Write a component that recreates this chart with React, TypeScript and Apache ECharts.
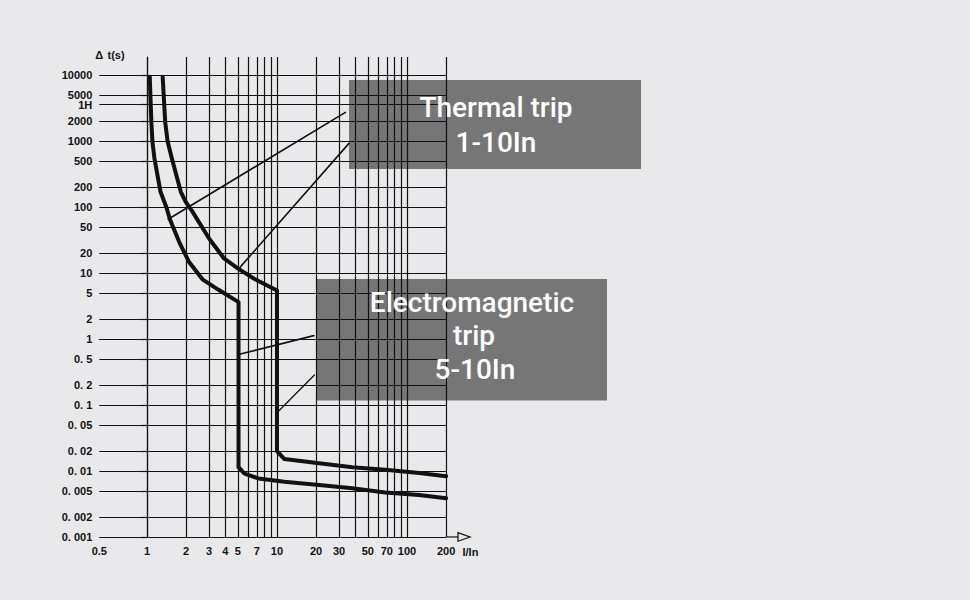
import React, { useEffect, useRef } from 'react';
import * as echarts from 'echarts';

// ---- axes (real values; axis is logarithmic, drawn through log10) ----
const xGridValues = [1, 2, 3, 4, 5, 6, 7, 8, 9, 10, 20, 30, 40, 50, 60, 70, 80, 90, 100, 200];
const xLabelValues = [1, 2, 3, 4, 5, 7, 10, 20, 30, 50, 70, 100, 200];
const xLabelTexts = ['1', '2', '3', '4', '5', '7', '10', '20', '30', '50', '70', '100', '200'];
const xAxisStart = 0.4296; // left end of the drawn axis, labelled "0.5" in the original
const xAxisStartLabel = '0.5';
const xAxisEnd = 200;
const xAxisName = 'I/In';

const yTickValues = [0.001, 0.002, 0.005, 0.01, 0.02, 0.05, 0.1, 0.2, 0.5, 1, 2, 5, 10, 20, 50, 100, 200, 500, 1000, 2000, 3600, 5000, 10000];
const yTickLabels = ['0. 001', '0. 002', '0. 005', '0. 01', '0. 02', '0. 05', '0. 1', '0. 2', '0. 5', '1', '2', '5', '10', '20', '50', '100', '200', '500', '1000', '2000', '1H', '5000', '10000'];
const yAxisMin = 0.001;
const yAxisMax = 18950;
const yAxisName = 't(s)';

// ---- trip curves (I/In, seconds) ----
const curveLeftX = [1.05, 1.08, 1.10, 1.14, 1.27, 1.41, 1.50, 1.77, 2.10, 2.67, 3.53, 5.06, 5.06, 5.63, 7.18, 11.4, 21.1, 38, 68, 124, 200];
const curveLeftT = [9480, 1980, 1000, 556, 171, 100, 65.8, 29.6, 14.9, 8.06, 5.64, 3.64, 0.0114, 0.00915, 0.00772, 0.00687, 0.00614, 0.00548, 0.00471, 0.00434, 0.00385];

const curveRightX = [1.32, 1.38, 1.44, 1.55, 1.82, 1.98, 2.23, 3.03, 3.44, 3.91, 5.06, 6.78, 10, 10, 11.4, 21.1, 38, 68, 124, 200];
const curveRightT = [9480, 1980, 1000, 556, 171, 122, 86.5, 32.7, 23.5, 16.7, 11.6, 8.06, 5.44, 0.02, 0.01515, 0.01306, 0.0114, 0.01048, 0.00934, 0.00834];

// ---- leader lines [start, end] in (I/In, seconds) ----
const leaderThermalA = [[1.455, 65.8], [33.6, 2737]];
const leaderThermalB = [[5.2, 12.3], [35.8, 929]];
const leaderMagA = [[5.14, 0.59], [19.2, 1.13]];
const leaderMagB = [[10.13, 0.0786], [19.4, 0.286]];

// ---- annotation texts ----
const thermalLines = ['Thermal trip', '1-10In'];
const magneticLines = ['Electromagnetic', 'trip', '5-10In'];

const L = Math.log10;
const BG = '#e9e9eb';
const BOX = '#767676';
const INK = '#111111';

export default function App() {
  const ref = useRef<HTMLDivElement>(null);

  useEffect(() => {
    document.body.style.margin = '0';
    document.body.style.background = BG;
    if (!ref.current) return;
    const chart = echarts.init(ref.current, null, { renderer: 'svg' });

    const gridLeft = 99.3;
    const gridRight = 970 - 446.1;
    const gridTop = 57;
    const gridBottom = 600 - 536.95;
    const axisX = gridLeft;
    const axisY = 600 - gridBottom;
    const axisXEnd = 970 - gridRight;

    const xLabelFmt = (v: number) => {
      if (Math.abs(v - L(xAxisStart)) < 1e-6) return xAxisStartLabel;
      const i = xLabelValues.findIndex((x) => Math.abs(L(x) - v) < 1e-6);
      return i >= 0 ? xLabelTexts[i] : '';
    };
    const yLabelFmt = (v: number) => {
      const i = yTickValues.findIndex((t) => Math.abs(L(t) - v) < 1e-6);
      return i >= 0 ? yTickLabels[i] : '';
    };

    const toPts = (xs: number[], ts: number[]) => xs.map((x, i) => [L(x), L(ts[i])]);
    const seg = (p: number[][]) => p.map(([x, t]) => [L(x), L(t)]);

    const labelFont = { fontFamily: 'Liberation Sans, Arial, sans-serif', fontSize: 11, fontWeight: 'bold' as const, color: INK };
    const boxFont = { fontFamily: 'Roboto, sans-serif', fontSize: 28, fontWeight: 500, fill: '#ffffff' };
    const smallFont = 'bold 11px "Liberation Sans", Arial, sans-serif';

    const lineSeries = (data: number[][], width: number) => ({
      type: 'line',
      data,
      symbol: 'none',
      z: 4,
      lineStyle: { color: INK, width, join: 'round', cap: 'round' },
      silent: true,
    });

    chart.setOption({
      animation: false,
      backgroundColor: BG,
      grid: { left: gridLeft, right: gridRight, top: gridTop, bottom: gridBottom },
      xAxis: {
        type: 'value',
        min: L(xAxisStart),
        max: L(xAxisEnd),
        z: 2,
        axisLine: { show: true, lineStyle: { color: INK, width: 1.2 } },
        axisTick: { show: false, customValues: xGridValues.map(L) },
        axisLabel: {
          customValues: [L(xAxisStart), ...xLabelValues.map(L)],
          formatter: xLabelFmt,
          margin: 9,
          hideOverlap: false,
          showMinLabel: true,
          showMaxLabel: true,
          ...labelFont,
        },
        splitLine: { show: true, lineStyle: { color: INK, width: 1.2 } },
      },
      yAxis: {
        type: 'value',
        min: L(yAxisMin),
        max: L(yAxisMax),
        z: 2,
        axisLine: { show: true, lineStyle: { color: INK, width: 1.2 } },
        axisTick: { show: true, length: 6, customValues: yTickValues.map(L), lineStyle: { color: INK, width: 1.2 } },
        axisLabel: {
          customValues: yTickValues.map(L),
          formatter: yLabelFmt,
          margin: 7,
          lineHeight: 8,
          hideOverlap: false,
          showMinLabel: true,
          showMaxLabel: true,
          ...labelFont,
        },
        splitLine: { show: true, lineStyle: { color: INK, width: 1.2 } },
      },
      series: [
        lineSeries(toPts(curveLeftX, curveLeftT), 4),
        lineSeries(toPts(curveRightX, curveRightT), 4),
        lineSeries(seg(leaderThermalA), 1.6),
        lineSeries(seg(leaderThermalB), 1.6),
        lineSeries(seg(leaderMagA), 1.7),
        lineSeries(seg(leaderMagB), 1.3),
      ],
      graphic: [
        { type: 'rect', z: 0, shape: { x: 349, y: 80, width: 292, height: 89 }, style: { fill: BOX } },
        { type: 'rect', z: 0, shape: { x: 316, y: 279, width: 291, height: 121.5 }, style: { fill: BOX } },
        { type: 'text', z: 10, x: 496, y: 107.5, style: { text: thermalLines[0], align: 'center', verticalAlign: 'middle', ...boxFont } },
        { type: 'text', z: 10, x: 496, y: 142.5, style: { text: thermalLines[1], align: 'center', verticalAlign: 'middle', ...boxFont } },
        { type: 'text', z: 10, x: 472, y: 302, style: { text: magneticLines[0], align: 'center', verticalAlign: 'middle', ...boxFont } },
        { type: 'text', z: 10, x: 474, y: 335, style: { text: magneticLines[1], align: 'center', verticalAlign: 'middle', ...boxFont } },
        { type: 'text', z: 10, x: 475, y: 369.5, style: { text: magneticLines[2], align: 'center', verticalAlign: 'middle', ...boxFont } },
        // y axis arrow head + name
        { type: 'text', z: 10, x: axisX, y: 55, style: { text: 'Δ', align: 'center', verticalAlign: 'middle', font: smallFont, fill: INK } },
        { type: 'text', z: 10, x: 107.5, y: 55, style: { text: yAxisName, align: 'left', verticalAlign: 'middle', font: smallFont, fill: INK } },
        // x axis extension + open arrow + name
        { type: 'line', z: 3, shape: { x1: axisXEnd, y1: axisY, x2: 458, y2: axisY }, style: { stroke: INK, lineWidth: 1.2 } },
        { type: 'polygon', z: 3, shape: { points: [[458, axisY - 4.3], [470, axisY], [458, axisY + 4.3]] }, style: { fill: BG, stroke: INK, lineWidth: 1.2 } },
        { type: 'text', z: 10, x: 462.5, y: 552, style: { text: xAxisName, align: 'left', verticalAlign: 'middle', font: smallFont, fill: INK } },
      ],
    });

    return () => chart.dispose();
  }, []);

  return <div ref={ref} style={{ width: 970, height: 600 }} />;
}
